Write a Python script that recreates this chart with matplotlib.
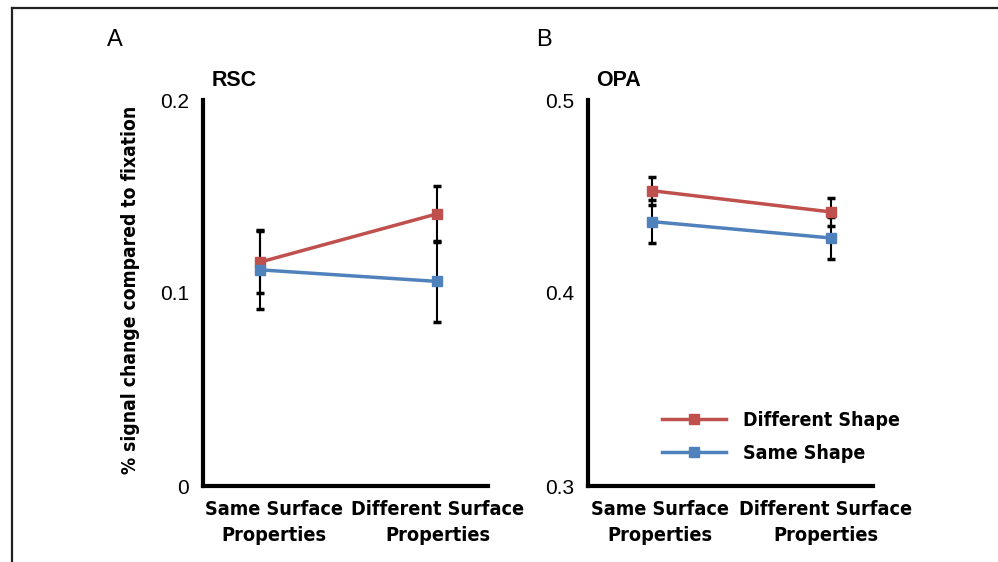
import matplotlib
matplotlib.use('Agg')
import matplotlib.pyplot as plt
import matplotlib.transforms as mtransforms
from matplotlib import font_manager
from matplotlib.lines import Line2D

# data
conditions = ['Same Surface\nProperties', 'Different Surface\nProperties']
rsc_diff = [0.116, 0.141]
rsc_diff_err = [0.016, 0.0145]
rsc_same = [0.112, 0.106]
rsc_same_err = [0.0205, 0.021]
opa_diff = [0.453, 0.442]
opa_diff_err = [0.0073, 0.0073]
opa_same = [0.437, 0.4285]
opa_same_err = [0.011, 0.011]

red = '#C0504D'
blue = '#4F81BD'

# look for a condensed bold face (the original uses Arial Narrow Bold)
narrow_path = None
for key in ['DejaVuSansCondensed-Bold.', 'LiberationSansNarrow-Bold.', 'RobotoCondensed-Bold', 'Roboto_Condensed-Bold']:
    for f in font_manager.fontManager.ttflist:
        if key in f.fname.replace(' ', ''):
            narrow_path = f.fname
            break
    if narrow_path:
        break

plt.rcParams['font.family'] = ['Liberation Sans', 'DejaVu Sans']


def narrow_font(size):
    if narrow_path:
        return font_manager.FontProperties(fname=narrow_path, size=size)
    return font_manager.FontProperties(family='Liberation Sans', weight='bold', size=size * 1.07)


fig = plt.figure(figsize=(9.98, 5.62), dpi=100)

# border lines (top and left only)
fig.add_artist(Line2D([11.5/998, 1], [1-7.5/562, 1-7.5/562], color='#222222', lw=1.6, transform=fig.transFigure))
fig.add_artist(Line2D([11.5/998, 11.5/998], [0, 1-7.5/562], color='#222222', lw=1.6, transform=fig.transFigure))

bottom = 1 - 486/562
height = (486 - 100)/562
axA = fig.add_axes([203/998, bottom, (488-203)/998, height])
axB = fig.add_axes([588/998, bottom, (873-588)/998, height])


def draw(ax, diff, diff_err, same, same_err, ylim, yticks, yticklabels, xlim, shifts):
    x = range(len(conditions))
    ax.errorbar(x, diff, yerr=diff_err, fmt='none', ecolor='black', elinewidth=1.5, capsize=3, capthick=2.5, zorder=2)
    ax.errorbar(x, same, yerr=same_err, fmt='none', ecolor='black', elinewidth=1.5, capsize=3, capthick=2.5, zorder=2)
    ax.plot(x, diff, color=red, lw=2.5, marker='s', ms=7, label='Different Shape', zorder=3)
    ax.plot(x, same, color=blue, lw=2.5, marker='s', ms=7, label='Same Shape', zorder=3)
    ax.set_ylim(ylim)
    ax.set_xlim(xlim)
    ax.set_yticks(yticks)
    ax.set_yticklabels(yticklabels, fontsize=15)
    ax.set_xticks(list(x))
    ax.set_xticklabels(conditions, fontproperties=narrow_font(14.2), linespacing=1.5)
    ax.tick_params(length=0)
    ax.tick_params(axis='y', pad=10)
    ax.tick_params(axis='x', pad=10)
    for lab, dx in zip(ax.get_xticklabels(), shifts):
        lab.set_transform(lab.get_transform() + mtransforms.ScaledTranslation(dx/100, 0, fig.dpi_scale_trans))
    for s in ['top', 'right']:
        ax.spines[s].set_visible(False)
    for s in ['left', 'bottom']:
        ax.spines[s].set_linewidth(3)
    ax.patch.set_alpha(0)


draw(axA, rsc_diff, rsc_diff_err, rsc_same, rsc_same_err, (0, 0.2), [0, 0.1, 0.2], ['0', '0.1', '0.2'],
     (-0.322, 1.288), [14, 1])
draw(axB, opa_diff, opa_diff_err, opa_same, opa_same_err, (0.3, 0.5), [0.3, 0.4, 0.5], ['0.3', '0.4', '0.5'],
     (-0.357, 1.235), [8, -5])

fig.text(212/998, 1 - 80/562, 'RSC', fontsize=15.5, fontweight='bold', va='center')
fig.text(596/998, 1 - 80/562, 'OPA', fontsize=15.5, fontweight='bold', va='center')
fig.text(107/998, 1 - 40/562, 'A', fontsize=17, va='center')
fig.text(536/998, 1 - 40/562, 'B', fontsize=17, va='center')

fig.text(131/998, 1 - 290/562, '% signal change compared to fixation', rotation=90,
         fontproperties=narrow_font(13.8), ha='center', va='center')

axB.legend(loc='upper left', bbox_to_anchor=(662/998, 1 - 411/562), bbox_transform=fig.transFigure,
           frameon=False, borderpad=0, borderaxespad=0, handlelength=3.3, handletextpad=0.85,
           labelspacing=0.7, prop=narrow_font(14))

fig.savefig('out.png', dpi=100)
